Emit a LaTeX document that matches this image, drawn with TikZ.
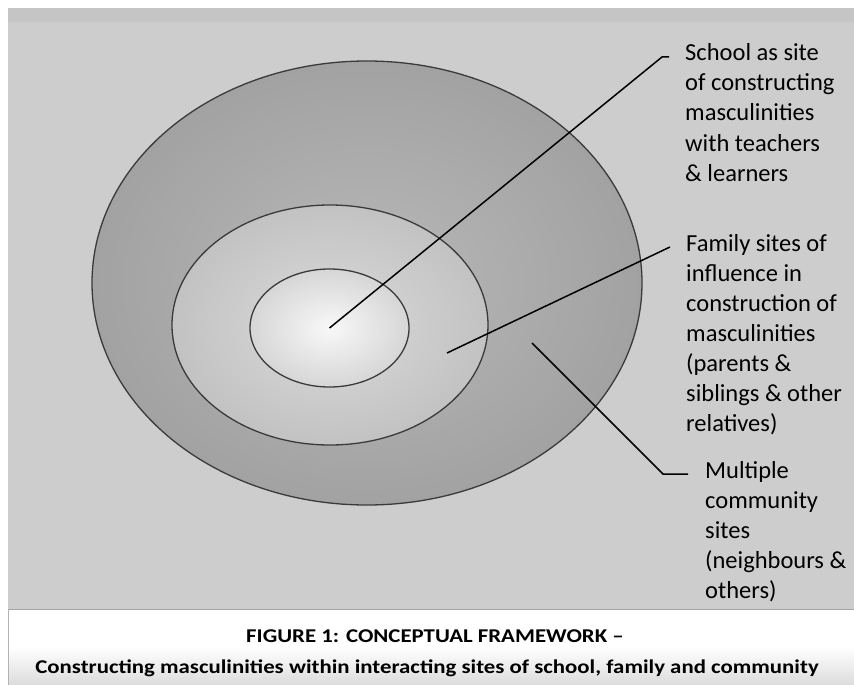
\documentclass[tikz,border=0pt]{standalone}
\usepackage{fontspec}
\setmainfont{Carlito}
\usetikzlibrary{shapes.geometric}
\definecolor{panel}{HTML}{CDCDCD}
\definecolor{ringedge}{HTML}{3A3A3A}
\definecolor{outerin}{HTML}{B8B8B8}
\definecolor{outerout}{HTML}{A2A2A2}
\definecolor{midin}{HTML}{DBDBDB}
\definecolor{midout}{HTML}{C2C2C2}
\definecolor{innin}{HTML}{F8F8F8}
\definecolor{innout}{HTML}{D6D6D6}
\definecolor{capbot}{HTML}{DCDCDC}
\newcommand{\lbllines}[1]{\vtop{\baselineskip=30pt\lineskiplimit=-100pt #1}}
\newcommand{\capwide}[1]{\scalebox{1.17}[1]{#1}}
\begin{document}
\begin{tikzpicture}[x=1pt,y=-1pt,
  ring/.style={ellipse, draw=ringedge, line width=1.3pt, inner sep=0pt},
  leader/.style={draw=black, line width=1.5pt},
  lbl/.style={anchor=base west, inner sep=0pt, font=\fontsize{24.5}{30}\selectfont},
  captxt/.style={anchor=base, inner sep=0pt, font=\fontsize{19.5}{23}\selectfont\bfseries}]
\useasboundingbox (0,0) rectangle (854,685);
\fill[white] (0,0) rectangle (854,685);
% grey panel
\fill[panel] (8,8) rectangle (854,609);
\fill[black!4!panel] (8,8) rectangle (854,22);
% caption box
\shade[top color=white, bottom color=capbot, middle color=white] (8,609) rectangle (854,685);
\draw[gray!70, line width=1pt] (8,609) -- (854,609);
\draw[gray!60, line width=1pt] (8.5,609) -- (8.5,685);
% rings
\node[ring, shade, inner color=outerin, outer color=outerout,
      minimum width=550pt, minimum height=444pt] (outer) at (367,283) {};
\node[ring, shade, inner color=midin, outer color=midout,
      minimum width=316pt, minimum height=240pt] (middle) at (330,325) {};
\node[ring, shade, inner color=innin, outer color=innout,
      minimum width=159pt, minimum height=118pt] (inner) at (329.5,328) {};
% labels
\node[lbl] (lschool) at (685,61) {\lbllines{\hbox{School as site}\hbox{of constructing}\hbox{masculinities}\hbox{with teachers}\hbox{\& learners}}};
\node[lbl] (lfamily) at (686,251) {\lbllines{\hbox{Family sites of}\hbox{influence in}\hbox{construction of}\hbox{masculinities}\hbox{(parents \&}\hbox{siblings \& other}\hbox{relatives)}}};
\node[lbl] (lcomm) at (705,478) {\lbllines{\hbox{Multiple}\hbox{community}\hbox{sites}\hbox{(neighbours \&}\hbox{others)}}};
% leader lines
\coordinate (s1a) at (662,57);
\coordinate (s1b) at (669,57);
\coordinate (f2a) at (447,353);
\coordinate (f2b) at (670,247);
\coordinate (c3a) at (532,343);
\coordinate (c3b) at (663,474);
\coordinate (c3c) at (688,474);
\draw[leader] (inner.center) -- (s1a) -- (s1b);
\draw[leader] (f2a) -- (f2b);
\draw[leader] (c3a) -- (c3b) -- (c3c);
% caption
\node[captxt] (cap1) at (435,642) {\capwide{FIGURE 1: CONCEPTUAL FRAMEWORK –}};
\node[captxt] (cap2) at (427,673) {\capwide{Constructing masculinities within interacting sites of school, family and community}};
\end{tikzpicture}
\end{document}
